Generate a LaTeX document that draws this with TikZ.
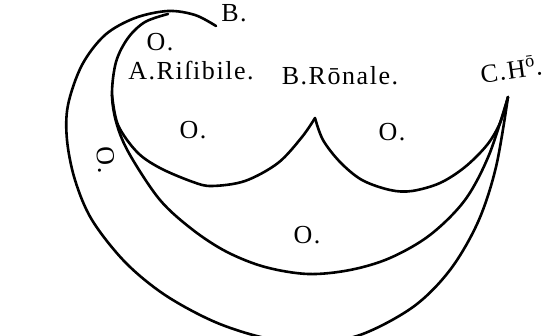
\documentclass[tikz,border=0pt]{standalone}
\usepackage{fontspec}
\setmainfont{Liberation Serif}[LetterSpace=6]
\begin{document}
\begin{tikzpicture}[x=1pt,y=-1pt,
  curve/.style={line width=2.6pt, line cap=round, smooth, tension=0.55},
  lbl/.style={inner sep=0pt, font=\fontsize{26}{28}\selectfont},
  olbl/.style={inner sep=0pt, font=\fontsize{26}{28}\selectfont}]
\useasboundingbox (0,0) rectangle (554,336);
% named points
\coordinate (C) at (508,97);
\coordinate (cusp) at (315,118);
% outer crescent
\draw[curve] plot coordinates {(216,26) (195,15) (168,11) (135,18) (105,35) (82,65) (68,105) (67,140) (75,180) (92,220) (125,262) (165,295) (215,322) (265,338) (310,343) (360,335) (413,307) (450,270) (478,222) (496,167) (C)};
% middle curve
\draw[curve] plot coordinates {(168,14) (145,22) (128,38) (116,62) (112,95) (117,125) (130,155) (160,200) (193,230) (227,252) (265,267) (308,274) (350,270) (390,258) (430,235) (465,200) (489,155) (C)};
% left lobe
\draw[curve] plot coordinates {(112,95) (118,125) (137,152) (160,168) (193,182) (212,186) (245,181) (278,163) (302,137) (cusp)};
% right lobe
\draw[curve] plot coordinates {(cusp) (323,140) (340,162) (362,180) (390,190) (412,191) (440,183) (465,167) (487,145) (500,123) (C)};
% labels
\node[lbl] (tB) at (234,13) {B.};
\node[olbl] (o1) at (160,42) {O.};
\node[lbl] (tA) at (191,71) {A.Riſibile.};
\node[lbl] (tR) at (340,76) {B.Rōnale.};
\node[lbl, rotate=8] (tC) at (511,69) {C.H\textsuperscript{ō}.};
\node[olbl] (o2) at (193,130) {O.};
\node[olbl] (o3) at (392,132) {O.};
\node[olbl, rotate=-85] (o4) at (106,160) {O.};
\node[olbl] (o5) at (307,235) {O.};
\end{tikzpicture}
\end{document}
